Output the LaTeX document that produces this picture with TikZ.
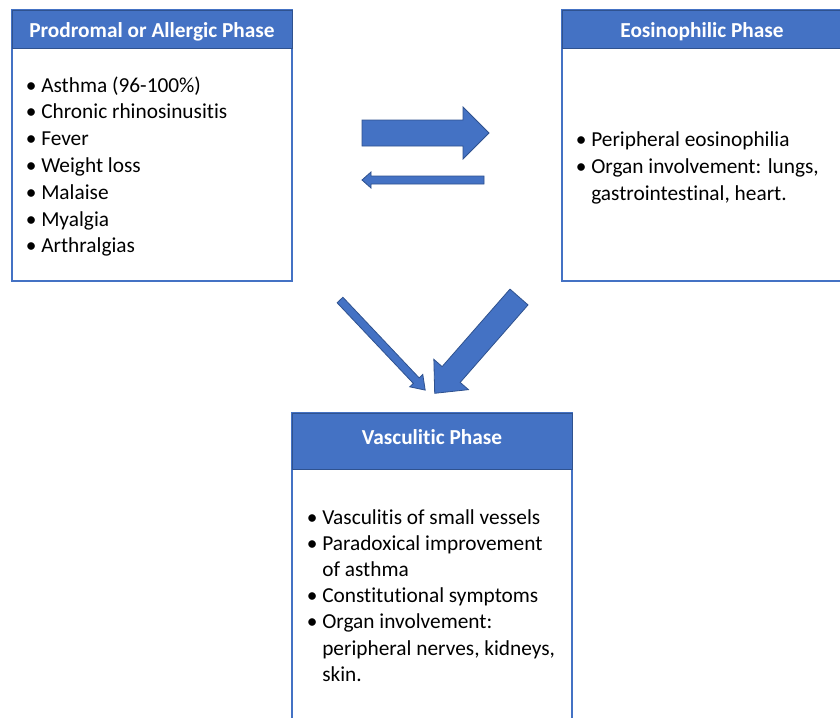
\documentclass[tikz,border=0pt]{standalone}
\usepackage{fontspec}
\setmainfont{Carlito}[Ligatures={NoCommon},RawFeature={-liga;-dlig;-clig}]
\definecolor{obl}{HTML}{4472C4}
\definecolor{obd}{HTML}{2F528F}
\newcommand{\blockarrow}[7]{%
  \begin{scope}[shift={(#1,#2)},rotate=#3]
    \filldraw[arrowshape] (0,-#5) -- ({#4-#7},-#5) -- ({#4-#7},-#6) -- (#4,0) -- ({#4-#7},#6) -- ({#4-#7},#5) -- (0,#5) -- cycle;
  \end{scope}}
\newcommand{\bul}{\llap{•\hspace{3.5pt}}}
\begin{document}
\begin{tikzpicture}[x=0.75pt,y=-0.75pt,
  boxline/.style={draw=obl,line width=1pt,fill=white},
  hdr/.style={fill=obl,draw=obd,line width=0.6pt},
  htext/.style={text=white,font=\fontsize{16}{19}\selectfont\bfseries,inner sep=0pt},
  itemtext/.style={anchor=base west,inner sep=0pt,font=\fontsize{16}{19}\selectfont},
  arrowshape/.style={fill=obl,draw=obd,line width=0.6pt}]
\useasboundingbox (0,0) rectangle (840,718);
\clip (0,0) rectangle (840,718);
\fill[white] (0,0) rectangle (840,718);
% left box
\draw[boxline] (12,10) rectangle (292,281);
\filldraw[hdr] (12,10) rectangle (292,48);
\node[htext] (hA) at (152,32) {Prodromal or Allergic Phase};
\node[itemtext] (a1) at (41,92) {\bul Asthma (96-100\%)};
\node[itemtext] (a2) at (41,118.8) {\bul Chronic rhinosinusitis};
\node[itemtext] (a3) at (41,145.6) {\bul Fever};
\node[itemtext] (a4) at (41,172.4) {\bul Weight loss};
\node[itemtext] (a5) at (41,199.2) {\bul Malaise};
\node[itemtext] (a6) at (41,226) {\bul Myalgia};
\node[itemtext] (a7) at (41,252.8) {\bul Arthralgias};
% right box
\draw[boxline] (562,10) rectangle (842,281);
\filldraw[hdr] (562,10) rectangle (842,48);
\node[htext] (hB) at (702,32) {Eosinophilic Phase};
\node[itemtext] (b1) at (591,146.5) {\bul Peripheral eosinophilia};
\node[itemtext] (b2) at (591,173.3) {\bul Organ involvement: lungs,};
\node[itemtext] (b3) at (591,200) {gastrointestinal, heart.};
% bottom box
\draw[boxline] (292,413) rectangle (572,760);
\filldraw[hdr] (292,413) rectangle (572,469);
\node[htext] (hC) at (432,437) {Vasculitic Phase};
\node[itemtext] (c1) at (322,524) {\bul Vasculitis of small vessels};
\node[itemtext] (c2) at (322,550.2) {\bul Paradoxical improvement};
\node[itemtext] (c3) at (322,576.4) {of asthma};
\node[itemtext] (c4) at (322,602.6) {\bul Constitutional symptoms};
\node[itemtext] (c5) at (322,628.8) {\bul Organ involvement:};
\node[itemtext] (c6) at (322,655) {peripheral nerves, kidneys,};
\node[itemtext] (c7) at (322,681.2) {skin.};
% arrows
\blockarrow{362}{133}{0}{127}{13}{26}{26}
\blockarrow{484}{180}{180}{122}{4}{8}{9}
\blockarrow{340}{300}{-46.6}{124}{4}{9}{13}
\blockarrow{519}{297}{-131.2}{128}{12}{23}{25}
\end{tikzpicture}
\end{document}
